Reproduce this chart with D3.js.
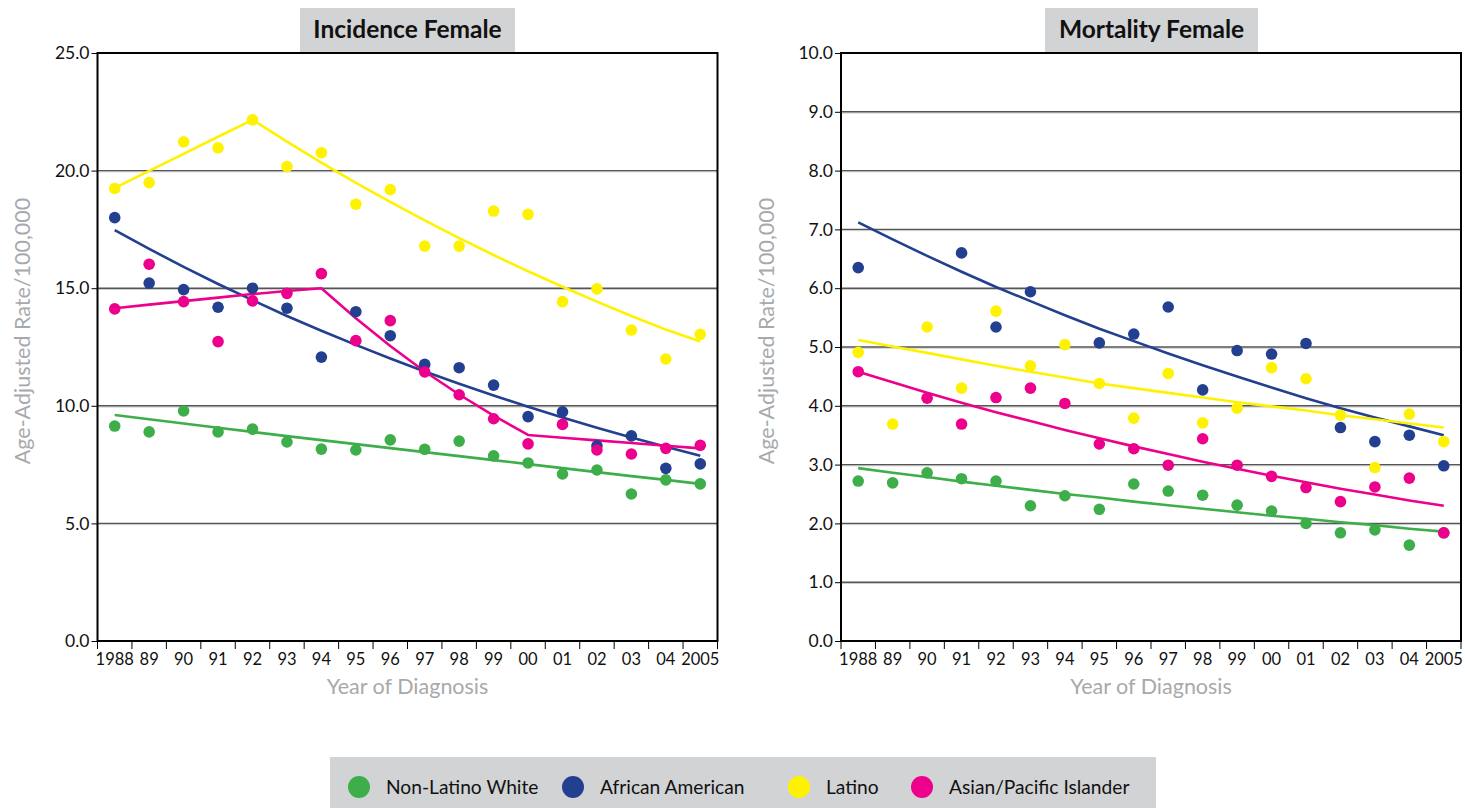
<!DOCTYPE html>
<html><head><meta charset="utf-8">
<script src="https://cdn.jsdelivr.net/npm/d3@7"></script>
<style>
body{margin:0;background:#fff;}
svg text{font-family:Lato,"Open Sans",sans-serif;}
</style>
</head><body>
<svg id="chart" width="1465" height="808"></svg>
<script>
// ---------- data ----------
const years = ["1988","89","90","91","92","93","94","95","96","97","98","99","00","01","02","03","04","2005"];
const seriesNames = ["Non-Latino White","African American","Latino","Asian/Pacific Islander"];
const seriesColors = ["#3dae49","#233f8f","#fff200","#ec008c"];

// Incidence Female (rate per 100,000)
const incWhite  = [9.14,8.89,9.78,8.89,9.01,8.46,8.16,8.12,8.55,8.15,8.50,7.87,7.57,7.10,7.27,6.25,6.85,6.68];
const incBlack  = [18.0,15.22,14.94,14.19,15.0,14.15,12.07,14.0,12.98,11.76,11.62,10.88,9.54,9.74,8.30,8.72,7.34,7.53];
const incLatino = [19.24,19.49,21.22,20.97,22.16,20.17,20.76,18.57,19.19,16.79,16.79,18.28,18.14,14.43,14.97,13.22,11.99,13.04];
const incAPI    = [14.12,16.02,14.43,12.73,14.46,14.78,15.62,12.77,13.62,11.44,10.47,9.45,8.38,9.21,8.12,7.95,8.19,8.32];
// fitted trend lines
const incWhiteTrend  = [9.61,9.43,9.25,9.07,8.89,8.71,8.54,8.37,8.20,8.03,7.86,7.69,7.52,7.35,7.18,7.01,6.85,6.68];
const incBlackTrend  = [17.47,16.67,15.91,15.18,14.49,13.82,13.19,12.59,12.01,11.46,10.94,10.44,9.96,9.50,9.07,8.65,8.26,7.88];
const incLatinoTrend = [19.26,19.99,20.71,21.44,22.16,21.23,20.34,19.48,18.67,17.88,17.13,16.41,15.72,15.06,14.43,13.82,13.24,12.73];
const incAPITrend    = [14.15,14.30,14.45,14.60,14.75,14.88,15.0,13.72,12.54,11.46,10.48,9.58,8.76,8.64,8.53,8.42,8.30,8.19];

// Mortality Female (rate per 100,000)
const morWhite  = [2.72,2.69,2.86,2.76,2.72,2.30,2.47,2.24,2.67,2.55,2.48,2.31,2.21,2.00,1.84,1.89,1.63,1.84];
const morBlack  = [6.35,null,null,6.60,5.34,5.94,null,5.07,5.22,5.68,4.27,4.94,4.88,5.06,3.63,3.39,3.50,2.98];
const morLatino = [4.91,3.69,5.34,4.30,5.61,4.68,5.04,4.38,3.79,4.55,3.71,3.96,4.65,4.46,3.84,2.95,3.86,3.39];
const morAPI    = [4.58,null,4.13,3.69,4.14,4.30,4.04,3.35,3.27,2.99,3.44,2.99,2.80,2.61,2.37,2.62,2.77,1.84];
const morWhiteTrend  = [2.94,2.86,2.79,2.71,2.64,2.57,2.50,2.44,2.37,2.31,2.25,2.19,2.13,2.08,2.02,1.97,1.91,1.86];
const morBlackTrend  = [7.12,6.83,6.55,6.28,6.02,5.78,5.54,5.31,5.10,4.89,4.69,4.50,4.31,4.13,3.96,3.80,3.65,3.50];
const morLatinoTrend = [5.12,5.01,4.90,4.79,4.68,4.58,4.48,4.38,4.30,4.22,4.14,4.06,3.99,3.92,3.84,3.77,3.70,3.63];
const morAPITrend    = [4.58,4.40,4.22,4.05,3.89,3.74,3.59,3.45,3.31,3.18,3.05,2.93,2.81,2.70,2.59,2.49,2.39,2.30];

const incTicks = [0,5,10,15,20,25];
const morTicks = [0,1,2,3,4,5,6,7,8,9,10];

// ---------- drawing ----------
const svg = d3.select("#chart");
svg.append("rect").attr("width",1465).attr("height",808).attr("fill","#fff");

function panel(cfg){
  const top = 53, bottom = 641;
  const x = d3.scaleBand().domain(years).range([cfg.x0, cfg.x1]);
  const y = d3.scaleLinear().domain([0, d3.max(cfg.ticks)]).range([bottom, top]);
  const g = svg.append("g");

  // title box
  g.append("rect").attr("x", cfg.titleX0).attr("y", 8)
    .attr("width", cfg.titleX1 - cfg.titleX0).attr("height", top - 8).attr("fill", "#d1d3d4");
  g.append("text").attr("x", (cfg.titleX0 + cfg.titleX1)/2).attr("y", 37.5)
    .attr("text-anchor","middle").attr("font-size", 24.5).attr("font-weight","bold")
    .attr("fill","#111").text(cfg.title);

  // gridlines
  cfg.ticks.filter(t => t > 0 && t < d3.max(cfg.ticks)).forEach(t => {
    g.append("line").attr("x1", cfg.x0).attr("x2", cfg.x1)
      .attr("y1", y(t)+1.2).attr("y2", y(t)+1.2).attr("stroke","#c8c8c8").attr("stroke-width",1);
    g.append("line").attr("x1", cfg.x0).attr("x2", cfg.x1)
      .attr("y1", y(t)).attr("y2", y(t)).attr("stroke","#555").attr("stroke-width",1.4);
  });

  // y axis
  const ya = g.append("g").attr("transform", `translate(${cfg.x0},0)`)
    .call(d3.axisLeft(y).tickValues(cfg.ticks).tickFormat(d3.format(".1f")).tickSize(6).tickPadding(2));
  ya.select(".domain").remove();
  ya.selectAll(".tick line").attr("stroke","#000").attr("stroke-width",1);
  ya.selectAll(".tick text").attr("font-size",17.5).attr("fill","#111")
    .style("font-family","Lato, 'Open Sans', sans-serif");

  // x axis labels
  const xa = g.append("g").attr("transform", `translate(0,${bottom})`)
    .call(d3.axisBottom(x).tickSize(0).tickPadding(12));
  xa.select(".domain").remove();
  xa.selectAll(".tick text").attr("font-size",16.5).attr("fill","#111")
    .style("font-family","Lato, 'Open Sans', sans-serif");
  // x tick marks at band boundaries
  const bounds = years.map(v => x(v)).concat([cfg.x1]);
  g.selectAll(null).data(bounds).enter().append("line")
    .attr("x1", d=>d).attr("x2", d=>d).attr("y1", bottom).attr("y2", bottom+8)
    .attr("stroke","#000").attr("stroke-width",1);

  // frame
  g.append("rect").attr("x", cfg.x0).attr("y", top).attr("width", cfg.x1-cfg.x0).attr("height", bottom-top)
    .attr("fill","none").attr("stroke","#000").attr("stroke-width",2);

  // axis titles
  g.append("text").attr("transform", `translate(${cfg.yTitleX},331) rotate(-90)`)
    .attr("text-anchor","middle").attr("font-size",21.5).attr("fill","#a7a9ac")
    .text("Age-Adjusted Rate/100,000");
  g.append("text").attr("x", (cfg.x0+cfg.x1)/2).attr("y", 694)
    .attr("text-anchor","middle").attr("font-size",21.5).attr("fill","#a7a9ac")
    .text("Year of Diagnosis");

  const cx = v => x(v) + x.bandwidth()/2;
  const line = d3.line().defined(d => d != null).x((d,i) => cx(years[i])).y(d => y(d));

  // trend lines
  cfg.trends.forEach((tr, k) => {
    g.append("path").datum(tr).attr("d", line).attr("fill","none")
      .attr("stroke", seriesColors[k]).attr("stroke-width", 2.6).attr("stroke-linejoin","round");
  });
  // dots
  cfg.series.forEach((s, k) => {
    g.selectAll(null).data(s.map((v,i)=>({v, yr: years[i]})).filter(d => d.v != null))
      .enter().append("circle")
      .attr("cx", d => cx(d.yr)).attr("cy", d => y(d.v)).attr("r", 5.8)
      .attr("fill", seriesColors[k]);
  });
}

panel({
  title:"Incidence Female", titleX0:300, titleX1:515,
  x0:97.5, x1:717.5, ticks:incTicks, yTitleX:30,
  series:[incWhite, incBlack, incLatino, incAPI],
  trends:[incWhiteTrend, incBlackTrend, incLatinoTrend, incAPITrend]
});
panel({
  title:"Mortality Female", titleX0:1045, titleX1:1258,
  x0:841, x1:1461, ticks:morTicks, yTitleX:774,
  series:[morWhite, morBlack, morLatino, morAPI],
  trends:[morWhiteTrend, morBlackTrend, morLatinoTrend, morAPITrend]
});

// legend
const lg = svg.append("g");
lg.append("rect").attr("x",330).attr("y",757).attr("width",826).attr("height",51).attr("fill","#d1d3d4");
const legX = [359, 573, 799, 922];
seriesNames.forEach((n,k) => {
  lg.append("circle").attr("cx", legX[k]).attr("cy", 787).attr("r", 11).attr("fill", seriesColors[k]);
  lg.append("text").attr("x", legX[k] + 27).attr("y", 794).attr("font-size",19.2).attr("fill","#111").text(n);
});
</script>
</body></html>
